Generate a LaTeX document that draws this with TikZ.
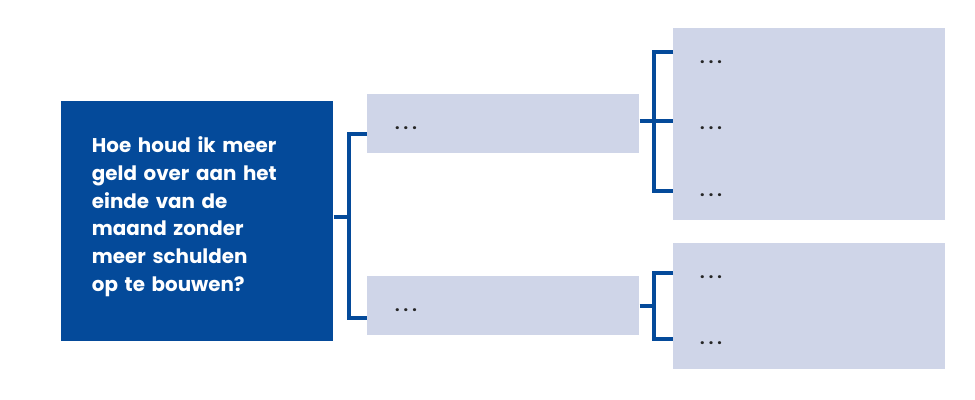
\documentclass[tikz,border=0pt]{standalone}
\usepackage{fontspec}
\setmainfont{Poppins}
\definecolor{vraagblauw}{RGB}{4,74,154}
\definecolor{vaklila}{RGB}{207,213,232}
\tikzset{
    vraag/.style={fill=vraagblauw,text=white,anchor=north west,minimum width=204pt,minimum height=180pt,
        text width=158pt,align=left,inner xsep=23pt,font=\fontsize{14.9}{20.8}\selectfont\bfseries},
    vak/.style={fill=vaklila,anchor=north west,minimum width=204pt,inner sep=0pt},
    puntjes/.style={font=\fontsize{12}{12}\selectfont\bfseries\addfontfeature{LetterSpace=25},text=black!85,inner sep=0pt},
    lijn/.style={draw=vraagblauw,line width=2.6pt},
}
\begin{document}
\begin{tikzpicture}[x=0.75pt,y=-0.75pt]
                \useasboundingbox (0,0) rectangle (975,400);
                % vraag en vakken
                \node[vraag] (vraag) at (61,101) {Hoe houd ik meer\\geld over aan het\\einde van de\\maand zonder\\meer schulden\\op te bouwen?\par\vspace*{7pt}};
                \node[vak,minimum height=44.25pt] (m1) at (367,94) {};
                \node[vak,minimum height=44.25pt] (m2) at (367,276) {};
                \node[vak,minimum height=144pt] (r1) at (673,28) {};
                \node[vak,minimum height=94.5pt] (r2) at (673,243) {};
                % puntjes
                \node[puntjes] (pm1) at (406,128) {...};
                \node[puntjes] (pm2) at (406,310) {...};
                \foreach \n/\y in {1/62,2/128,3/195,4/277,5/343}{
                    \node[puntjes] (p\n) at (711,\y) {...};
                }
                % verbindingen
                \draw[lijn] (vraag.east |- 0,217) -- (349,217);
                \draw[lijn] (m1.west |- 0,134) -| (349,318) -- (m2.west |- 0,318);
                \draw[lijn] (m1.east |- 0,121) -- (r1.west |- 0,121);
                \draw[lijn] (r1.west |- 0,52) -| (654,191) -- (r1.west |- 0,191);
                \draw[lijn] (m2.east |- 0,306) -- (654,306);
                \draw[lijn] (r2.west |- 0,273) -| (654,339) -- (r2.west |- 0,339);
            \end{tikzpicture}
\end{document}
